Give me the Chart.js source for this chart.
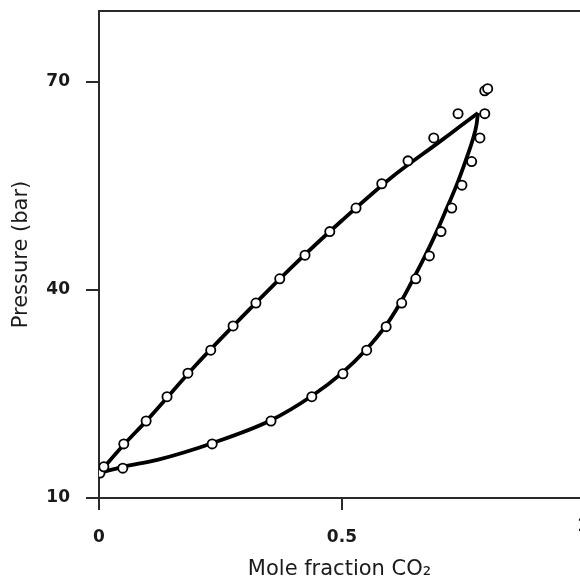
<!DOCTYPE html>
<html>
<head>
<meta charset="utf-8">
<script src="https://cdn.jsdelivr.net/npm/chart.js@4/dist/chart.umd.min.js"></script>
<style>
  html, body { margin: 0; padding: 0; background: #fff; }
  #wrap { width: 580px; height: 580px; position: relative; }
</style>
</head>
<body>
<div id="wrap"><canvas id="phase-chart"></canvas></div>
<script>
/* =========================
   DATA
========================= */
// upper branch, measured points
const upperX = [0.010, 0.051, 0.097, 0.140, 0.183, 0.230, 0.276, 0.323, 0.372, 0.424, 0.475, 0.529, 0.582, 0.636, 0.689, 0.739];
const upperY = [14.5, 17.8, 21.1, 24.6, 28.0, 31.3, 34.8, 38.1, 41.6, 45.0, 48.4, 51.8, 55.3, 58.6, 61.9, 65.4];

// lower branch, measured points
const lowerX = [0.002, 0.049, 0.233, 0.354, 0.438, 0.502, 0.551, 0.591, 0.623, 0.652, 0.680, 0.704, 0.726, 0.747, 0.767, 0.784, 0.794];
const lowerY = [13.6, 14.3, 17.8, 21.1, 24.6, 27.9, 31.3, 34.7, 38.1, 41.6, 44.9, 48.4, 51.8, 55.1, 58.5, 61.9, 65.4];

// stray points near the critical point
const strayX = [0.794, 0.800];
const strayY = [68.7, 69.0];

// fitted curves (traced)
const upperLineX = [0, 0.05, 0.10, 0.20, 0.30, 0.40, 0.50, 0.60, 0.70, 0.74, 0.780];
const upperLineY = [13.6, 17.6, 21.3, 29.2, 36.5, 43.5, 50.0, 56.1, 61.3, 63.4, 65.5];

const lowerLineX = [0, 0.049, 0.12, 0.233, 0.354, 0.438, 0.50, 0.55, 0.59, 0.62, 0.647, 0.672, 0.695, 0.716, 0.736, 0.754, 0.769, 0.777, 0.780];
const lowerLineY = [13.6, 14.5, 15.5, 17.9, 21.2, 24.7, 28.0, 31.4, 34.8, 38.1, 41.6, 45.0, 48.4, 51.8, 55.1, 58.5, 61.6, 63.8, 65.5];

// axes
const xTickValues = [0, 0.5];
const yTickValues = [10, 40, 70];
const xExtraLabel = 1;          // sits just past the right edge
const xRange = [0, 0.99];
const yRange = [10, 80.2];

const toPoints = (xs, ys) => xs.map((x, i) => ({ x: x, y: ys[i] }));

const INK = '#1a1a1a';
const AXIS = '#2a2a2a';
const tickFont = { family: 'DejaVu Sans', size: 17, weight: 'bold' };
const titleFont = { family: 'DejaVu Sans', size: 21, lineHeight: 1 };

// no extra room for edge labels, the frame is fixed
function noEdgePadding(scale) {
  scale.paddingTop = 0;
  scale.paddingBottom = 0;
  scale.paddingLeft = 0;
  scale.paddingRight = 0;
}

/* =========================
   EXTRA FRAME BITS
========================= */
const framePlugin = {
  id: 'frame',
  afterDraw(chart) {
    const { ctx, chartArea } = chart;
    const xs = chart.scales.x;
    ctx.save();
    // top frame line
    ctx.strokeStyle = AXIS;
    ctx.lineWidth = 2;
    ctx.beginPath();
    ctx.moveTo(chartArea.left, chartArea.top);
    ctx.lineTo(chartArea.right, chartArea.top);
    ctx.stroke();
    // the "1" label that is mostly off canvas
    const items = xs.getLabelItems();
    if (items.length) {
      const it = items[0];
      ctx.fillStyle = INK;
      ctx.font = 'bold 17px "DejaVu Sans"';
      ctx.textAlign = 'center';
      ctx.textBaseline = it.options.textBaseline || 'middle';
      ctx.fillText(String(xExtraLabel), xs.getPixelForValue(xExtraLabel) - 2, it.options.translation[1] + (it.options.textOffset || 0));
    }
    ctx.restore();
  }
};

/* =========================
   CHART
========================= */
const ctx = document.getElementById('phase-chart').getContext('2d');

const pointStyle = {
  type: 'scatter',
  showLine: false,
  pointRadius: 4.6,
  pointBorderWidth: 1.8,
  pointBackgroundColor: '#ffffff',
  pointBorderColor: '#000000',
  pointHoverRadius: 4.6,
  order: 1
};

const lineStyle = {
  type: 'line',
  borderColor: '#000000',
  borderWidth: 3.8,
  pointRadius: 0,
  fill: false,
  cubicInterpolationMode: 'monotone',
  order: 2
};

new Chart(ctx, {
  type: 'scatter',
  data: {
    datasets: [
      Object.assign({ label: 'upper curve', data: toPoints(upperLineX, upperLineY) }, lineStyle),
      Object.assign({ label: 'lower curve', data: toPoints(lowerLineX, lowerLineY) }, lineStyle),
      Object.assign({ label: 'upper points', data: toPoints(upperX, upperY) }, pointStyle),
      Object.assign({ label: 'lower points', data: toPoints(lowerX, lowerY) }, pointStyle),
      Object.assign({ label: 'stray points', data: toPoints(strayX, strayY) }, pointStyle)
    ]
  },
  options: {
    responsive: true,
    maintainAspectRatio: false,
    animation: false,
    layout: { autoPadding: false, padding: { top: 11, right: 0, bottom: 0, left: 0 } },
    plugins: {
      legend: { display: false },
      tooltip: { enabled: false }
    },
    scales: {
      x: {
        type: 'linear',
        min: xRange[0],
        max: xRange[1],
        afterBuildTicks: (scale) => { scale.ticks = xTickValues.map(v => ({ value: v })); },
        afterFit: (scale) => { scale.height = 82; noEdgePadding(scale); },
        ticks: {
          color: INK,
          font: tickFont,
          padding: 17,
          maxRotation: 0,
          callback: (v) => String(v)
        },
        grid: {
          drawOnChartArea: false,
          drawTicks: true,
          tickLength: 12,
          color: AXIS,
          lineWidth: 2
        },
        border: { display: true, color: AXIS, width: 2 },
        title: {
          display: true,
          text: 'Mole fraction CO₂',
          color: INK,
          font: titleFont,
          padding: { top: 0, bottom: 0 }
        }
      },
      y: {
        type: 'linear',
        min: yRange[0],
        max: yRange[1],
        afterBuildTicks: (scale) => { scale.ticks = yTickValues.map(v => ({ value: v })); },
        afterFit: (scale) => { scale.width = 99; noEdgePadding(scale); },
        ticks: {
          color: INK,
          font: tickFont,
          padding: 16,
          callback: (v) => String(v)
        },
        grid: {
          drawOnChartArea: false,
          drawTicks: true,
          tickLength: 13,
          color: AXIS,
          lineWidth: 2
        },
        border: { display: true, color: AXIS, width: 2 },
        title: {
          display: true,
          text: 'Pressure (bar)',
          color: INK,
          font: titleFont,
          padding: { top: 11, bottom: 0 }
        }
      }
    }
  },
  plugins: [framePlugin]
});
</script>
</body>
</html>
